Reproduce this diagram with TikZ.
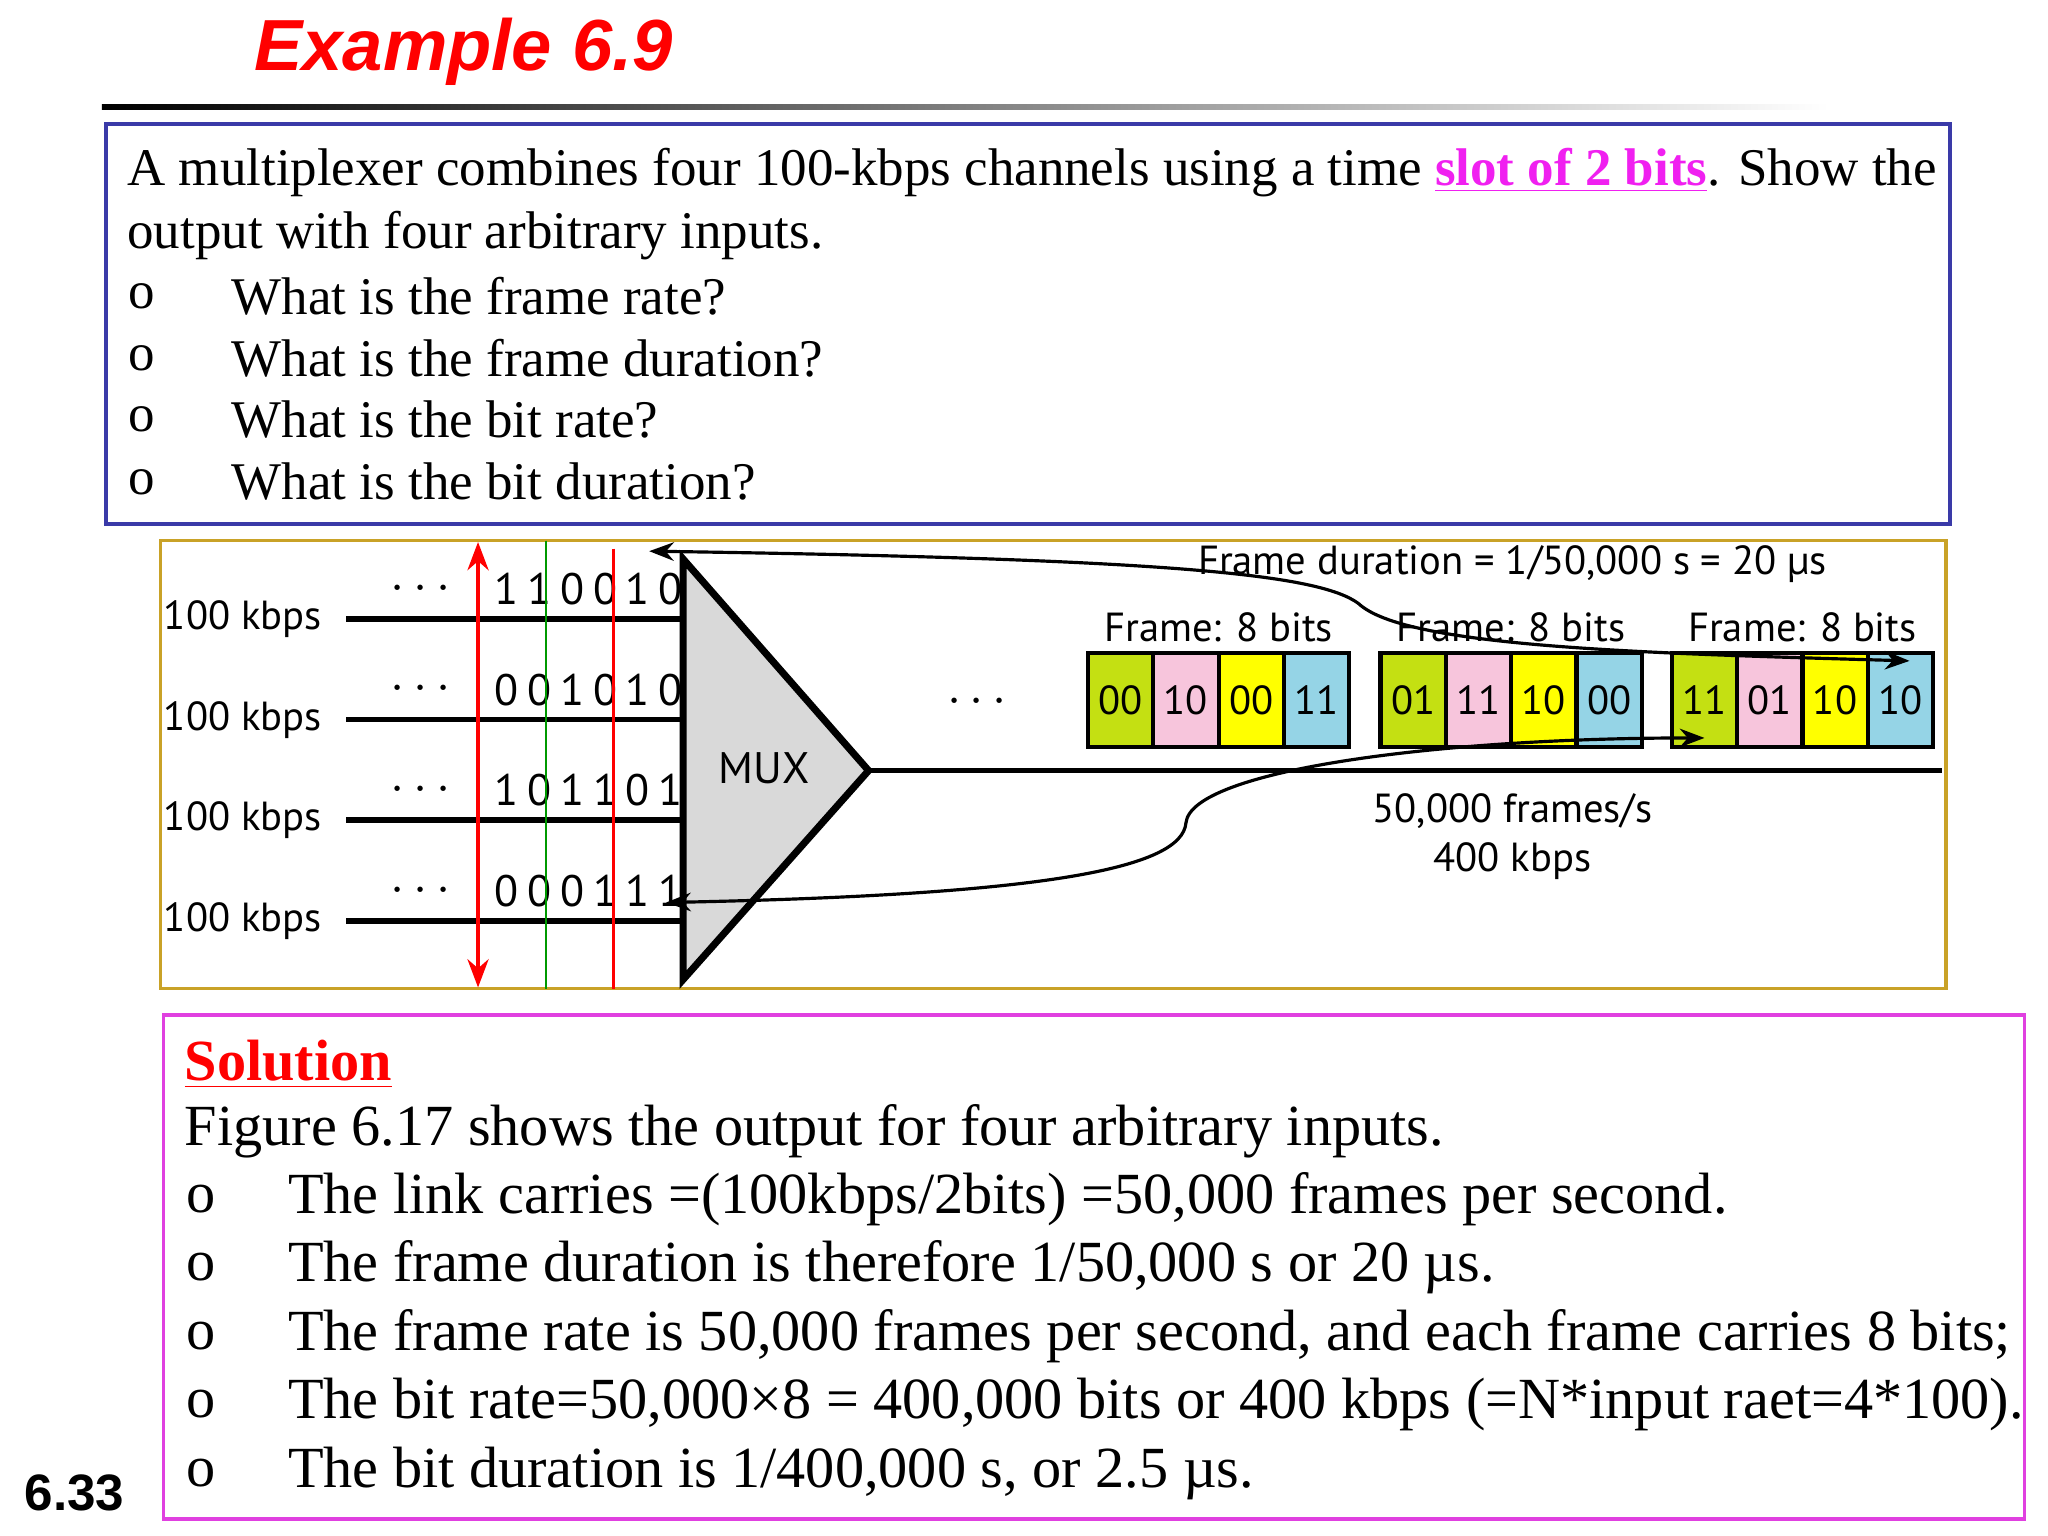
\documentclass[tikz,border=0pt]{standalone}
\usepackage{fontspec}
\setmainfont{Liberation Serif}
\newfontfamily\dsf{PT Sans}
\newfontfamily\arial{Liberation Sans}
\usetikzlibrary{arrows.meta}
\definecolor{qblue}{HTML}{3A3AA8}
\definecolor{gold}{HTML}{C9A227}
\definecolor{solmag}{HTML}{E040E0}
\definecolor{lime}{HTML}{C4E012}
\definecolor{pinkc}{HTML}{F7C5DC}
\definecolor{yel}{HTML}{FFFF00}
\definecolor{cyanc}{HTML}{95D4E6}
\definecolor{magt}{HTML}{F020F0}
\tikzset{
 qtext/.style={anchor=west,inner sep=0,font=\fontsize{15}{18}\selectfont},
 stext/.style={anchor=west,inner sep=0,font=\fontsize{16.5}{20}\selectfont},
 dtext/.style={inner sep=0,font=\dsf\fontsize{11.5}{14}\selectfont},
 cell/.style={draw,line width=1.2pt,minimum width=0.65cm,minimum height=0.936cm,inner sep=0,font=\dsf\fontsize{11.5}{14}\selectfont},
 inline/.style={line width=1.6pt},
 conn/.style={line width=0.9pt,{Stealth[length=7pt]}-{Stealth[length=7pt]}},
}
\begin{document}
\begin{tikzpicture}[x=0.013cm,y=-0.013cm]
\useasboundingbox (0,0) rectangle (1568,1176);
\fill[white] (0,0) rectangle (1568,1176);
% title
\node[inner sep=0,text=red,font=\arial\bfseries\itshape\fontsize{20.5}{24}\selectfont] (title) at (355,40) {Example 6.9};
\shade[left color=black,right color=white] (78,80) rectangle (1400,84);
% question box
\draw[qblue,line width=1pt] (81,95) rectangle (1493,401);
\node[qtext] (q1) at (97,132) {A multiplexer combines four 100-kbps channels using a time \textcolor{magt}{\textbf{\underline{slot of 2 bits}}}. Show the};
\node[qtext] (q2) at (97,180) {output with four arbitrary inputs.};
\foreach \y/\t [count=\i] in {227/What is the frame rate?,274/What is the frame duration?,321/What is the bit rate?,369/What is the bit duration?}{
 \node[qtext] (qb\i) at (98,\y) {o};
 \node[qtext] (qt\i) at (177,\y) {\t};
}
% diagram box
\draw[gold,line width=1pt] (123,414) rectangle (1490,757);
\foreach \y/\b [count=\i] in {474/110010,551/001010,628/101101,705/000111}{
 \node[dtext,anchor=west] (lab\i) at (125,\y) {100 kbps};
 \coordinate (ls\i) at (265,\y);
 \coordinate (le\i) at (523,\y);
 \draw[inline] (ls\i) -- (le\i);
 \node[dtext,font=\bfseries\fontsize{14}{14}\selectfont] (dots\i) at (322,\y-23) {$\cdots$};
 \node[dtext,anchor=west,font=\dsf\fontsize{12.5}{14}\selectfont] (bits\i) at (378,\y-23) {\addfontfeature{LetterSpace=20}\b};
}
\draw[red,line width=1pt,{Stealth[length=8pt]}-{Stealth[length=8pt]}] (366,415) -- (366,756);
\draw[green!60!black,line width=0.6pt] (418,414) -- (418,757);
\draw[red,line width=0.8pt] (470,420) -- (470,757);
% MUX
\coordinate (mt) at (523,428);
\coordinate (mb) at (523,750);
\coordinate (ma) at (665,590);
\draw[fill=gray!30,line width=2pt,line join=miter] (mt) -- (ma) -- (mb) -- cycle;
\node[dtext,font=\dsf\fontsize{12.5}{14}\selectfont] (mux) at (585,588) {MUX};
\coordinate (oe) at (1487,590);
\draw[inline] (ma) -- (oe);
\node[dtext,font=\bfseries\fontsize{14}{14}\selectfont] (odots) at (748,538) {$\cdots$};
% frames
\foreach \fx/\a/\b/\c/\d [count=\f] in {858/00/10/00/11,1082/01/11/10/00,1305/11/01/10/10}{
 \node[cell,fill=lime] (c\f1) at (\fx,536) {\a};
 \node[cell,fill=pinkc] (c\f2) at (\fx+50,536) {\b};
 \node[cell,fill=yel] (c\f3) at (\fx+100,536) {\c};
 \node[cell,fill=cyanc] (c\f4) at (\fx+150,536) {\d};
 \node[dtext] (fl\f) at (\fx+75,480) {Frame: 8 bits};
}
\node[dtext] (fd) at (1158,432) {Frame duration = 1/50,000 s = 20 µs};
\node[dtext] (fps) at (1158,621) {50,000 frames/s};
\node[dtext] (kb) at (1158,659) {400 kbps};
% connectors
\coordinate (a1) at (497,422);
\coordinate (a2) at (1462,506);
\coordinate (b1) at (510,691);
\coordinate (b2) at (1305,565);
\draw[conn] (a1) .. controls (900,428) and (1010,440) .. (1040,462) .. controls (1075,495) and (1250,500) .. (a2);
\draw[conn] (b1) .. controls (800,685) and (905,665) .. (908,630) .. controls (912,590) and (1100,565) .. (b2);
% solution
\draw[solmag,line width=1pt] (125,777) rectangle (1550,1163);
\node[stext,text=red,font=\bfseries\fontsize{16.5}{20}\selectfont] (sol) at (141,815) {\underline{Solution}};
\node[stext] (s0) at (141,866) {Figure 6.17 shows the output for four arbitrary inputs.};
\foreach \y/\t [count=\i] in {918/{The link carries =(100kbps/2bits) =50,000 frames per second.},970/{The frame duration is therefore 1/50,000 s or 20 µs.},1023/{The frame rate is 50,000 frames per second, and each frame carries 8 bits;},1075/{The bit rate=50,000×8 = 400,000 bits or 400 kbps (=N*input raet=4*100).},1128/{The bit duration is 1/400,000 s, or 2.5 µs.}}{
 \node[stext] (sb\i) at (142,\y) {o};
 \node[stext] (st\i) at (220,\y) {\t};
}
\node[inner sep=0,font=\arial\bfseries\fontsize{14.5}{16}\selectfont] (pg) at (57,1143) {6.33};
\end{tikzpicture}
\end{document}
